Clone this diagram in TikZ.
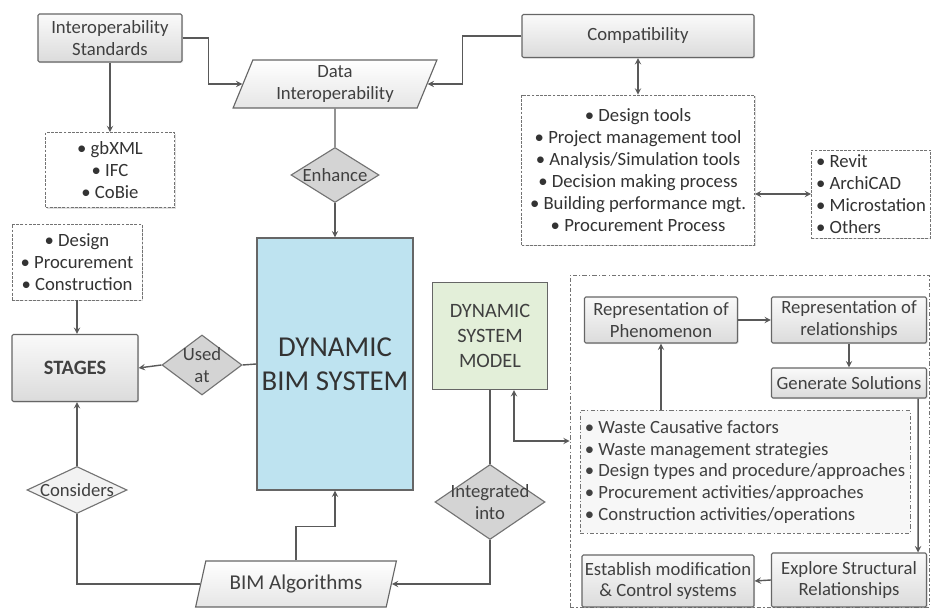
\documentclass[tikz,border=0pt]{standalone}
\usepackage{fontspec}
\setmainfont{Carlito}
\usepackage{xcolor}
\usepackage{tikz}
\usetikzlibrary{positioning, shapes.geometric, shadows}
\usetikzlibrary{calc}
\definecolor{bimblue}{RGB}{190,227,240}
\definecolor{dsmgreen}{RGB}{227,239,217}
\tikzstyle{graybox} = [rectangle, rounded corners=1pt, draw=black!60, line width=0.8pt, top color=black!2, bottom color=black!14, text=black!75, align=center, inner sep=2pt, drop shadow={opacity=0.2,shadow xshift=0.8pt,shadow yshift=-0.8pt}]
\tikzstyle{listbox} = [rectangle, draw=black!55, dash pattern=on 2pt off 1pt, fill=white, text=black!80, align=center, drop shadow={opacity=0.25,shadow xshift=0.8pt,shadow yshift=-0.8pt}]
\tikzstyle{io} = [trapezium, trapezium left angle=70, trapezium right angle=110, trapezium stretches=true, draw=black!60, line width=0.8pt, top color=white, bottom color=black!10, text=black!75, align=center, inner sep=1pt]
\tikzstyle{decision} = [diamond, aspect=1.5, draw=black!55, line width=0.8pt, fill=black!17, text=black!75, align=center, inner sep=-4pt]
\tikzstyle{arrow} = [line width=1pt, draw=black!65, ->, >=stealth]
\tikzstyle{line} = [line width=1pt, draw=black!65]
\tikzstyle{every node}=[font=\fontsize{13.3}{15.6}\selectfont]

\begin{document}
\begin{tikzpicture}[node distance=2cm]
	\useasboundingbox (0,0) rectangle (23.275,15.225);
	% top row
	\node (std) [graybox, minimum width=3.6cm, minimum height=1.2cm] at (2.75,14.275) {Interoperability\\Standards};
	\node (data) [io, minimum width=5.1cm, minimum height=1.2cm] at (8.375,13.125) {Data\\Interoperability};
	\node (compat) [graybox, minimum width=5.8cm, minimum height=1.075cm] at (15.95,14.325) {Compatibility};
	\node (gbxml) [listbox, below of=std, yshift=-1.3cm, minimum width=3.225cm, minimum height=1.875cm] {\textbullet\ gbXML\\\textbullet\ IFC\\\textbullet\ CoBie};
	\node (enh) [decision, below of=data, yshift=-0.275cm, minimum width=2.2cm, minimum height=1.375cm] {Enhance};
	\node (tools) [listbox, below of=compat, yshift=-1.35cm, minimum width=5.825cm, minimum height=3.75cm] {\textbullet\ Design tools\\\textbullet\ Project management tool\\\textbullet\ Analysis/Simulation tools\\\textbullet\ Decision making process\\\textbullet\ Building performance mgt.\\\textbullet\ Procurement Process};
	\node (revit) [listbox, align=left, minimum width=2.9cm, minimum height=1.95cm] at (21.775,10.375) {\textbullet\ Revit\\\textbullet\ ArchiCAD\\\textbullet\ Microstation\\\textbullet\ Others};
	
	% left part
	\node (design) [listbox, minimum width=3.25cm, minimum height=1.9cm] at (1.925,8.675) {\textbullet\ Design\\\textbullet\ Procurement\\\textbullet\ Construction};
	\node (stages) [graybox, minimum width=3.15cm, minimum height=1.675cm, font=\fontsize{14.5}{17}\selectfont\bfseries] at (1.875,6.025) {STAGES};
	\node (used) [decision, minimum width=2cm, minimum height=1.5cm] at (5.05,6.1) {Used\\at};
	\node (cons) [decision, minimum width=2.5cm, minimum height=1.175cm, fill=black!5] at (1.925,2.975) {Considers};
	\node (dbim) [rectangle, draw=black!60, line width=0.8pt, fill=bimblue, text=black!80, align=center, minimum width=3.875cm, minimum height=6.3cm, font=\fontsize{20.5}{24}\selectfont, drop shadow={opacity=0.2,shadow xshift=0.8pt,shadow yshift=-0.8pt}] at (8.375,6.125) {DYNAMIC\\BIM SYSTEM};
	\node (algo) [io, minimum width=5.025cm, minimum height=1.15cm, font=\fontsize{15}{18}\selectfont] at (7.4,0.625) {BIM Algorithms};
	
	% model part
	\node (dsm) [rectangle, draw=black!60, line width=0.8pt, fill=dsmgreen, text=black!75, align=center, minimum width=2.875cm, minimum height=2.675cm, font=\fontsize{14.5}{17.5}\selectfont] at (12.25,6.825) {DYNAMIC\\SYSTEM\\MODEL};
	\node (integ) [decision, below of=dsm, yshift=-2.15cm, minimum width=2.75cm, minimum height=1.875cm] {Integrated\\into};
	
	% right part
	\node (big) [rectangle, draw=black!55, dash pattern=on 3pt off 1.5pt on 1pt off 1.5pt, minimum width=8.975cm, minimum height=8.3cm] at (18.7375,4.2) {};
	\node (phen) [graybox, minimum width=3.825cm, minimum height=1.15cm] at (16.525,7.225) {Representation of\\Phenomenon};
	\node (rel) [graybox, right of=phen, xshift=2.7cm, minimum width=3.875cm, minimum height=1.15cm] {Representation of\\relationships};
	\node (gen) [graybox, below of=rel, yshift=0.425cm, minimum width=3.875cm, minimum height=0.75cm] {Generate Solutions};
	\node (waste) [rectangle, draw=black!55, dash pattern=on 3pt off 1.5pt on 1pt off 1.5pt, fill=black!3, text=black!75, align=left, minimum width=8.125cm, minimum height=3.075cm] at (18.625,3.425) {\textbullet\ Waste Causative factors\\\textbullet\ Waste management strategies\\\textbullet\ Design types and procedure/approaches\\\textbullet\ Procurement activities/approaches\\\textbullet\ Construction activities/operations};
	\node (expl) [graybox, minimum width=3.875cm, minimum height=1.35cm] at (21.225,0.725) {Explore Structural\\Relationships};
	\node (estab) [graybox, minimum width=4.25cm, minimum height=1.3cm] at (16.7,0.7) {Establish modification\\\& Control systems};
	
	% connectors
	\draw [arrow] (std.east) -- ++(0.65,0) |- (data.west);
	\draw [arrow] (compat.west) -- ++(-1.475,0) |- (data.east);
	\draw [arrow] (std.south) -- (gbxml.north);
	\draw [line] (data.south) -- (enh.north);
	\draw [arrow] (enh.south) -- (dbim.north);
	\draw [arrow, <->] (compat.south) -- (tools.north);
	\draw [arrow, <->] (tools.east |- revit.west) -- (revit.west);
	\draw [arrow] (design.south) -- (design.south |- stages.north);
	\draw [line] (dbim.west) -- (used.east);
	\draw [arrow] (used.west) -- (stages.east);
	\draw [arrow] (algo.north) -- ++(0,0.85) -| (dbim.south);
	\draw [line] (algo.west) -| (cons.south);
	\draw [arrow] (cons.north) -- (cons.north |- stages.south);
	\draw [line] (dsm.south) -- (integ.north);
	\draw [arrow] (integ.south) |- (algo.east);
	\draw [arrow, <->] ($(dsm.south)+(0.6,0)$) |- (big.west);
	\draw [arrow] (phen.south |- waste.north) -- (phen.south);
	\draw [arrow] (phen.east) -- (rel.west);
	\draw [arrow] (rel.south) -- (gen.north);
	\draw [arrow] ($(gen.south east)+(-0.225,0)$) -- ($(expl.north east)+(-0.225,0)$);
	\draw [arrow] (expl.west) -- (estab.east);
\end{tikzpicture}
\end{document}
